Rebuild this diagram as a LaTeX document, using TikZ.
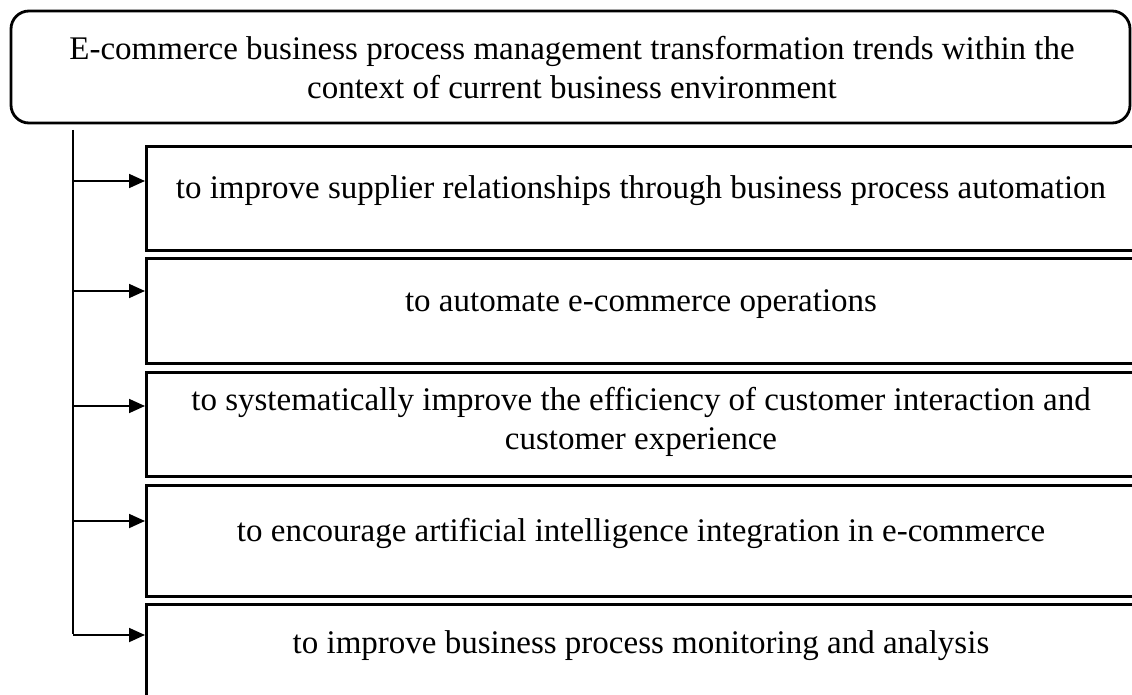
\documentclass[tikz,border=0pt]{standalone}
\usepackage{fontspec}
\setmainfont{Liberation Serif}
\usetikzlibrary{arrows.meta,calc}
\begin{document}
\begin{tikzpicture}[x=1pt,y=-1pt,
  topbox/.style={draw, line width=2.8pt, rounded corners=18pt},
  itembox/.style={draw, line width=2.8pt},
  txt/.style={font=\fontsize{33}{39}\selectfont, align=center, anchor=base, inner sep=0pt},
  conn/.style={line width=1.8pt},
  arr/.style={line width=1.8pt, -{Triangle[length=16pt,width=14pt]}}]
\clip (0,0) rectangle (1132,695);
\fill[white] (0,0) rectangle (1132,695);
% top box
\draw[topbox] (11,11) rectangle (1130,123);
\node[txt] (toptxt) at (572,99) {E-commerce business process management transformation trends within the\\context of current business environment};
% item boxes
\node[itembox, anchor=north west, minimum width=1000pt, minimum height=104pt] (b1) at (145,145) {};
\node[itembox, anchor=north west, minimum width=1000pt, minimum height=105pt] (b2) at (145,257) {};
\node[itembox, anchor=north west, minimum width=1000pt, minimum height=104pt] (b3) at (145,371) {};
\node[itembox, anchor=north west, minimum width=1000pt, minimum height=111pt] (b4) at (145,484) {};
\node[itembox, anchor=north west, minimum width=1000pt, minimum height=120pt] (b5) at (145,603) {};
\node[txt] (t1) at (641,199) {to improve supplier relationships through business process automation};
\node[txt] (t2) at (641,311) {to automate e-commerce operations};
\node[txt] (t3) at (641,449) {to systematically improve the efficiency of customer interaction and\\customer experience};
\node[txt] (t4) at (641,541) {to encourage artificial intelligence integration in e-commerce};
\node[txt] (t5) at (641,653) {to improve business process monitoring and analysis};
% connectors
\coordinate (vtop) at (73,130);
\coordinate (vbot) at (73,634);
\draw[conn] (vtop) -- (vbot);
\foreach \b/\o in {b1/36,b2/34,b3/35,b4/37,b5/32}{
  \draw[arr] (vtop |- {$(\b.north west)+(0,\o)$}) -- ($(\b.north west)+(0,\o)$);
}
\end{tikzpicture}
\end{document}
